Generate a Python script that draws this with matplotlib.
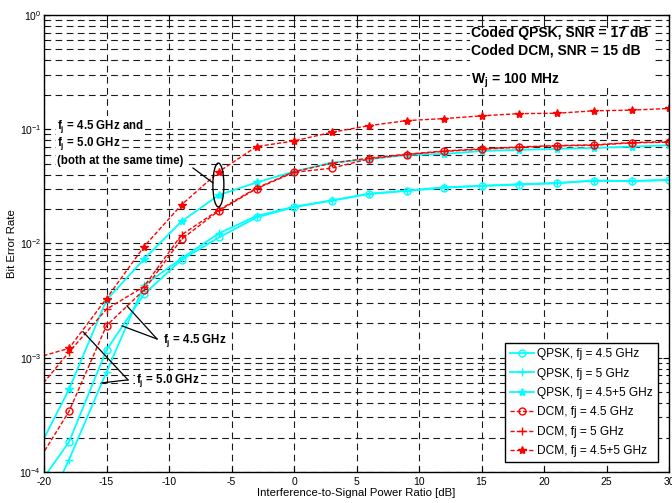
import matplotlib
matplotlib.use('Agg')
import matplotlib.pyplot as plt
from matplotlib.patches import Ellipse, Rectangle

plt.rcParams['font.family'] = ['Liberation Sans', 'DejaVu Sans']
plt.rcParams['mathtext.fontset'] = 'custom'
plt.rcParams['mathtext.rm'] = 'Liberation Sans'
plt.rcParams['mathtext.bf'] = 'Liberation Sans:bold'
plt.rcParams['axes.unicode_minus'] = False

# ISR [dB] (first point lies just left of the axis, as in the original)
isr = [-21, -18, -15, -12, -9, -6, -3, 0, 3, 6, 9, 12, 15, 18, 21, 24, 27, 30]

qpsk_45 = [6.3e-5, 1.83e-4, 1.17e-3, 3.6e-3, 7.2e-3, 1.13e-2, 1.69e-2, 2.08e-2, 2.37e-2,
           2.72e-2, 2.89e-2, 3.08e-2, 3.19e-2, 3.28e-2, 3.37e-2, 3.55e-2, 3.52e-2, 3.6e-2]
qpsk_5 = [2.6e-5, 1.28e-4, 7.5e-4, 4.3e-3, 7.4e-3, 1.23e-2, 1.74e-2, 2.1e-2, 2.38e-2,
          2.72e-2, 2.9e-2, 3.1e-2, 3.2e-2, 3.3e-2, 3.38e-2, 3.55e-2, 3.52e-2, 3.6e-2]
qpsk_both = [1.2e-4, 5.3e-4, 3.2e-3, 7.3e-3, 1.56e-2, 2.66e-2, 3.42e-2, 4.26e-2, 5.1e-2,
             5.46e-2, 5.96e-2, 6.08e-2, 6.45e-2, 6.6e-2, 6.73e-2, 6.86e-2, 7.05e-2, 7.24e-2]
dcm_45 = [1e-4, 3.39e-4, 1.91e-3, 3.92e-3, 1.09e-2, 1.94e-2, 3.02e-2, 4.2e-2, 4.56e-2,
          5.5e-2, 6.0e-2, 6.4e-2, 6.68e-2, 6.95e-2, 7.15e-2, 7.24e-2, 7.6e-2, 7.7e-2]
dcm_5 = [4.5e-4, 1.12e-3, 2.66e-3, 4.2e-3, 1.19e-2, 1.97e-2, 3.06e-2, 4.25e-2, 5.04e-2,
         5.6e-2, 6.05e-2, 6.45e-2, 6.75e-2, 7.0e-2, 7.2e-2, 7.3e-2, 7.65e-2, 7.8e-2]
dcm_both = [9.7e-4, 1.21e-3, 3.3e-3, 9.4e-3, 2.18e-2, 4.26e-2, 7.05e-2, 7.9e-2, 9.4e-2,
            0.1075, 0.119, 0.124, 0.131, 0.137, 0.138, 0.145, 0.147, 0.152]

c1 = '#00ffff'
c2 = 'r'

fig = plt.figure(figsize=(6.72, 5.03), dpi=100)
ax = fig.add_axes([44 / 672, 1 - 472 / 503, 625 / 672, 457 / 503])

ax.plot(isr, qpsk_45, '-', color=c1, lw=1.3, marker='o', ms=5, mfc='none', mew=1, label='QPSK, fj = 4.5 GHz')
ax.plot(isr, qpsk_5, '-', color=c1, lw=1.3, marker='+', ms=6, mew=1, label='QPSK, fj = 5 GHz')
ax.plot(isr, qpsk_both, '-', color=c1, lw=1.3, marker='*', ms=6, label='QPSK, fj = 4.5+5 GHz')
ax.plot(isr, dcm_45, '--', color=c2, lw=1, dashes=(3, 1.5), marker='o', ms=5, mfc='none', mew=1, label='DCM, fj = 4.5 GHz')
ax.plot(isr, dcm_5, '--', color=c2, lw=1, dashes=(3, 1.5), marker='+', ms=6, mew=1, label='DCM, fj = 5 GHz')
ax.plot(isr, dcm_both, '--', color=c2, lw=1, dashes=(3, 1.5), marker='*', ms=6, label='DCM, fj = 4.5+5 GHz')

ax.set_yscale('log')
ax.set_xlim(-20, 30)
ax.set_ylim(1e-4, 1)
ax.set_xticks(range(-20, 31, 5))
ax.grid(True, which='major', color='0.1', ls=(0, (6, 4)), lw=0.8)
ax.grid(True, which='minor', axis='y', color='0.1', ls=(0, (6, 4)), lw=0.8)
ax.tick_params(which='both', direction='in', top=True, right=True, labelsize=7.5)
ax.tick_params(which='major', length=4)
ax.tick_params(which='minor', length=2)
ax.tick_params(axis='y', pad=2)
for s in ax.spines.values():
    s.set_linewidth(1)

ax.set_xlabel('Interference-to-Signal Power Ratio [dB]', fontsize=8.2, labelpad=1)
ax.set_ylabel('Bit Error Rate', fontsize=8.2, labelpad=2)

leg = ax.legend(loc='lower right', bbox_to_anchor=(0.982, 0.022), borderaxespad=0, fontsize=8.6,
                fancybox=False, framealpha=1, edgecolor='k', handlelength=2.0, handletextpad=0.3,
                labelspacing=0.62, borderpad=0.4)
leg.get_frame().set_linewidth(1)

# text box in upper right
ax.add_patch(Rectangle((0.682, 0.84), 0.29, 0.13, transform=ax.transAxes, facecolor='white',
                       edgecolor='none', zorder=1.6))
ax.text(0.683, 0.961, 'Coded QPSK, SNR = 17 dB', transform=ax.transAxes, fontsize=10, fontweight='bold', va='center')
ax.text(0.683, 0.923, 'Coded DCM, SNR = 15 dB', transform=ax.transAxes, fontsize=10, fontweight='bold', va='center')
ax.text(0.683, 0.855, r'W$_\mathbf{j}$ = 100 MHz', transform=ax.transAxes, fontsize=10, fontweight='bold', va='center')

box = dict(facecolor='white', edgecolor='none', pad=1)
ax.text(0.021, 0.757, r'f$_\mathbf{j}$ = 4.5 GHz and', transform=ax.transAxes, fontsize=8.3, fontweight='bold', va='center', bbox=box)
ax.text(0.021, 0.718, r'f$_\mathbf{j}$ = 5.0 GHz', transform=ax.transAxes, fontsize=8.3, fontweight='bold', va='center', bbox=box)
ax.text(0.021, 0.681, '(both at the same time)', transform=ax.transAxes, fontsize=8.3, fontweight='bold', va='center', bbox=box)
ax.add_patch(Ellipse((0.279, 0.628), 0.0176, 0.096, transform=ax.transAxes, fill=False, edgecolor='k', lw=1, zorder=5))
ax.plot([-8.08, -6.48], [4.58e-2, 3.39e-2], color='k', lw=0.9)

ax.text(-10.48, 1.41e-3, r'f$_\mathbf{j}$ = 4.5 GHz', fontsize=8.3, fontweight='bold', va='center', bbox=box)
ax.plot([-10.96, -13.36], [1.46e-3, 2.84e-3], color='k', lw=0.9)
ax.plot([-10.96, -13.76], [1.46e-3, 1.9e-3], color='k', lw=0.9)

ax.text(-12.64, 6.28e-4, r'f$_\mathbf{j}$ = 5.0 GHz', fontsize=8.3, fontweight='bold', va='center', bbox=box)
ax.plot([-13.28, -16.88], [6.4e-4, 1.69e-3], color='k', lw=0.9)
ax.plot([-13.28, -15.36], [6.4e-4, 6.03e-4], color='k', lw=0.9)

plt.savefig('out.png', dpi=100)
